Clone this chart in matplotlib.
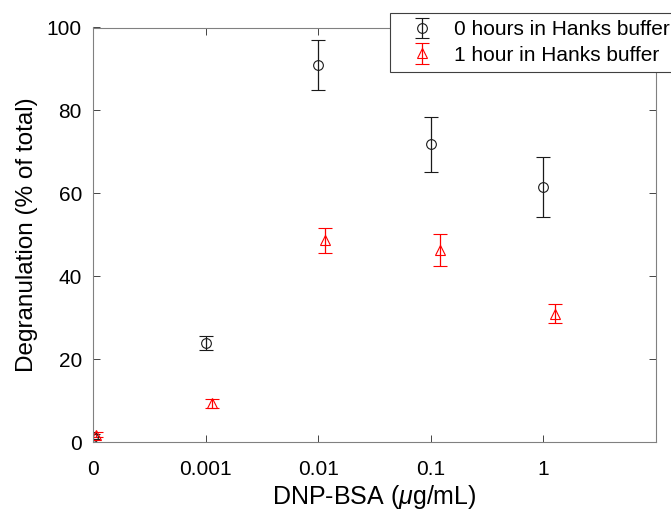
import matplotlib
matplotlib.use("Agg")
import matplotlib.pyplot as plt

plt.rcParams['font.family'] = ['Liberation Sans', 'DejaVu Sans']
plt.rcParams['mathtext.fontset'] = 'custom'
plt.rcParams['mathtext.it'] = 'Liberation Sans:italic'
plt.rcParams['mathtext.rm'] = 'Liberation Sans'

# Data
dose_labels = ['0', '0.001', '0.01', '0.1', '1']
dose_pos = [1e-4, 1e-3, 1e-2, 1e-1, 1.0]      # "0" drawn at 1e-4 on the log axis
red_shift = [1.06, 1.14, 1.15, 1.2, 1.26]       # small horizontal offset of 2nd series
hours0_mean = [1.3, 23.8, 91.0, 71.8, 61.6]
hours0_err = [0.6, 1.7, 6.1, 6.6, 7.2]
hours1_mean = [1.8, 9.3, 48.7, 46.3, 31.0]
hours1_err = [0.5, 1.0, 3.0, 3.8, 2.4]

fig = plt.figure(figsize=(6.71, 5.13), dpi=100)
ax = fig.add_axes([93/671, 1-442/513, (656-93)/671, (442-27.5)/513])

ax.errorbar(dose_pos, hours0_mean, yerr=hours0_err, fmt='o', color='#1a1a1a',
            mfc='none', ms=7, mew=0.8, elinewidth=0.9, capsize=5, capthick=0.9,
            label='0 hours in Hanks buffer')
red_x = [p*s for p, s in zip(dose_pos, red_shift)]
ax.errorbar(red_x, hours1_mean, yerr=hours1_err, fmt='^', color='red',
            mfc='none', ms=7.5, mew=0.8, elinewidth=0.9, capsize=5, capthick=0.9,
            label='1 hour in Hanks buffer')

ax.set_xscale('log')
ax.set_xlim(1e-4, 10)
ax.set_ylim(0, 100)
ax.set_xticks(dose_pos)
ax.set_xticklabels(dose_labels)
ax.minorticks_off()
ax.set_yticks([0, 20, 40, 60, 80, 100])
ax.tick_params(direction='in', length=5, width=0.6, colors='#262626',
               labelsize=15, labelcolor='black',
               top=True, right=True)
ax.tick_params(axis='x', pad=13)
ax.tick_params(axis='y', pad=8)
for s in ax.spines.values():
    s.set_color('#808080')
    s.set_linewidth(0.8)

ax.set_xlabel(r'DNP-BSA ($\mu$g/mL)', fontsize=18, labelpad=3)
ax.set_ylabel('Degranulation (% of total)', fontsize=17.5, labelpad=6)

leg = fig.legend(loc='upper left', bbox_to_anchor=(390/671, 1-13/513),
                 fontsize=15, frameon=True, fancybox=False, edgecolor='#404040',
                 framealpha=1, borderpad=0.35, handletextpad=0.3, labelspacing=0.3,
                 handlelength=2.4, borderaxespad=0)
leg.get_frame().set_linewidth(0.8)

fig.savefig('out.png', dpi=100)
